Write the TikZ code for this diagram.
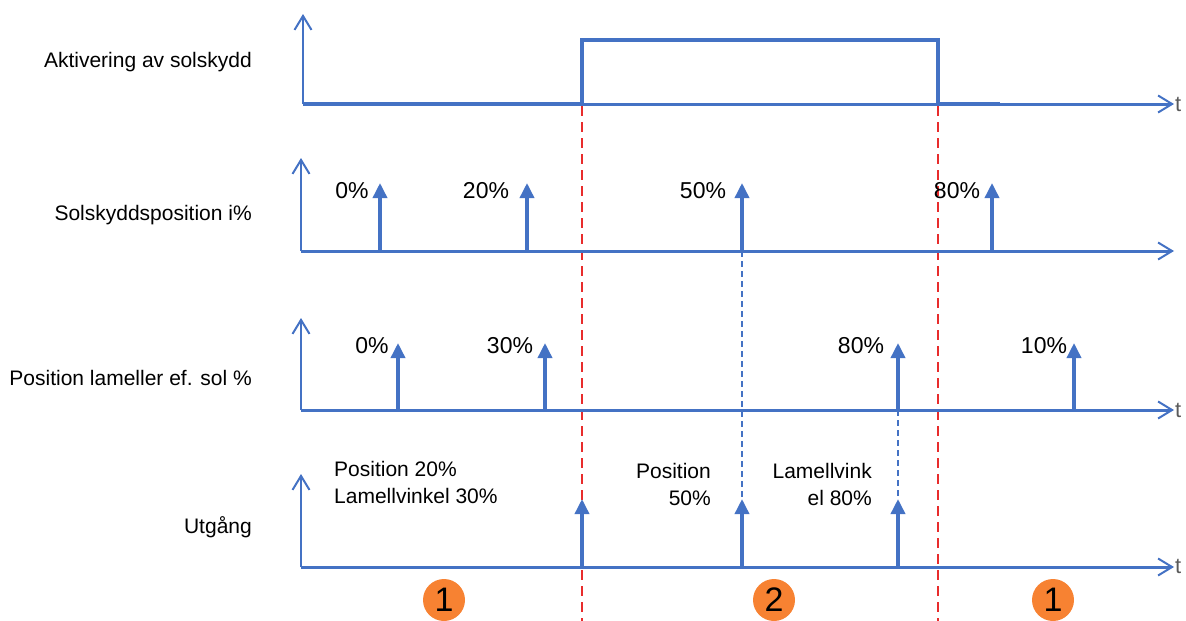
\documentclass[tikz,border=0pt]{standalone}
\usepackage{fontspec}
\setmainfont{Liberation Sans}
\usetikzlibrary{arrows.meta}
\definecolor{axblue}{RGB}{68,114,196}
\definecolor{dred}{RGB}{232,44,44}
\definecolor{orng}{RGB}{247,130,50}
\definecolor{tgray}{RGB}{90,90,90}
\begin{document}
\begin{tikzpicture}[x=1pt,y=-1pt,
  haxis/.style={draw=axblue,line width=3pt,-{Straight Barb[length=14pt,width=17pt,line width=2pt]}},
  vaxis/.style={draw=axblue,line width=2.5pt,-{Straight Barb[length=14pt,width=17pt,line width=2pt]}},
  impulse/.style={draw=axblue,line width=3.5pt,-{Triangle[length=15pt,width=14pt]}},
  signal/.style={draw=axblue,line width=3.5pt,line join=miter},
  redguide/.style={draw=dred,line width=1.6pt,dash pattern=on 10pt off 6pt},
  blueguide/.style={draw=axblue,line width=1.3pt,dash pattern=on 6pt off 4pt},
  lbl/.style={font=\fontsize{21}{25}\selectfont,inner sep=0pt},
  pct/.style={font=\fontsize{23}{27}\selectfont,inner sep=0pt},
  tlbl/.style={font=\fontsize{22}{26}\selectfont,text=tgray,inner sep=0pt,anchor=west},
  badge/.style={circle,fill=orng,minimum size=42pt,inner sep=0pt,font=\fontsize{34}{38}\selectfont}
]
\useasboundingbox (0,0) rectangle (1186,621);

% ---- guides (drawn first, under the signals) ----
\coordinate (r1t) at (582,106);
\coordinate (r1b) at (582,621);
\coordinate (r2t) at (938,106);
\coordinate (r2b) at (938,621);
\draw[redguide] (r1t) -- (r1b);
\draw[redguide] (r2t) -- (r2b);

% ---- row 1 ----
\coordinate (o1) at (303,104);
\coordinate (y1) at (303,14);
\coordinate (x1) at (1174,104);
\coordinate (s1) at (582,104);
\coordinate (s2) at (582,40);
\coordinate (s3) at (938,40);
\coordinate (s4) at (938,104);
\coordinate (s5) at (1000,104);
\draw[vaxis] (o1) -- (y1);
\draw[haxis] (o1) -- (x1);
\draw[signal] (o1) -- (s1) -- (s2) -- (s3) -- (s4) -- (s5);
\node[tlbl] (t1) at (1175,104) {t};
\node[lbl,anchor=east] (L1) at (252,62) {Aktivering av solskydd};

% ---- row 2 ----
\coordinate (o2) at (301,251);
\coordinate (y2) at (301,158);
\coordinate (x2) at (1174,251);
\draw[vaxis] (o2) -- (y2);
\draw[haxis] (o2) -- (x2);
\foreach \n/\x/\lx/\txt in {a/380/352/0\%,b/527/486/20\%,c/742/703/50\%,d/992/957/80\%}{
  \coordinate (p2\n) at (\x,251);
  \coordinate (q2\n) at (\x,183);
  \draw[impulse] (p2\n) -- (q2\n);
  \node[pct] (v2\n) at (\lx,191) {\txt};
}
\node[lbl,anchor=east] (L2) at (252,215) {Solskyddsposition i\%};

% ---- row 3 ----
\coordinate (o3) at (301,410);
\coordinate (y3) at (301,318);
\coordinate (x3) at (1174,410);
\draw[vaxis] (o3) -- (y3);
\draw[haxis] (o3) -- (x3);
\foreach \n/\x/\lx/\txt in {a/398/372/0\%,b/545/510/30\%,c/898/861/80\%,d/1074/1044/10\%}{
  \coordinate (p3\n) at (\x,410);
  \coordinate (q3\n) at (\x,343);
  \draw[impulse] (p3\n) -- (q3\n);
  \node[pct] (v3\n) at (\lx,346) {\txt};
}
\node[tlbl] (t3) at (1175,410) {t};
\node[lbl,anchor=east] (L3) at (252,378) {Position lameller ef. sol \%};

% ---- row 4 ----
\coordinate (o4) at (301,567);
\coordinate (y4) at (301,474);
\coordinate (x4) at (1174,567);
\coordinate (q4b) at (742,499);
\coordinate (q4c) at (898,499);
\draw[blueguide] (p2c) -- (q4b);
\draw[blueguide] (p3c) -- (q4c);
\draw[vaxis] (o4) -- (y4);
\draw[haxis] (o4) -- (x4);
\foreach \n/\x in {a/582,b/742,c/898}{
  \coordinate (p4\n) at (\x,567);
  \coordinate (q4\n) at (\x,499);
  \draw[impulse] (p4\n) -- (q4\n);
}
\node[tlbl] (t4) at (1175,566) {t};
\node[lbl,anchor=east] (L4) at (252,527) {Utgång};
\node[lbl,anchor=north west,align=left] (u1) at (334,461) {Position 20\%\\[2pt]Lamellvinkel 30\%};
\node[lbl,anchor=north east,align=right] (u2) at (711,463) {Position\\[2pt]50\%};
\node[lbl,anchor=north east,align=right] (u3) at (872,463) {Lamellvink\\[2pt]el 80\%};

% ---- phase badges ----
\node[badge] (b1) at (444,600) {1};
\node[badge] (b2) at (774,600) {2};
\node[badge] (b3) at (1053,600) {1};
\end{tikzpicture}
\end{document}
